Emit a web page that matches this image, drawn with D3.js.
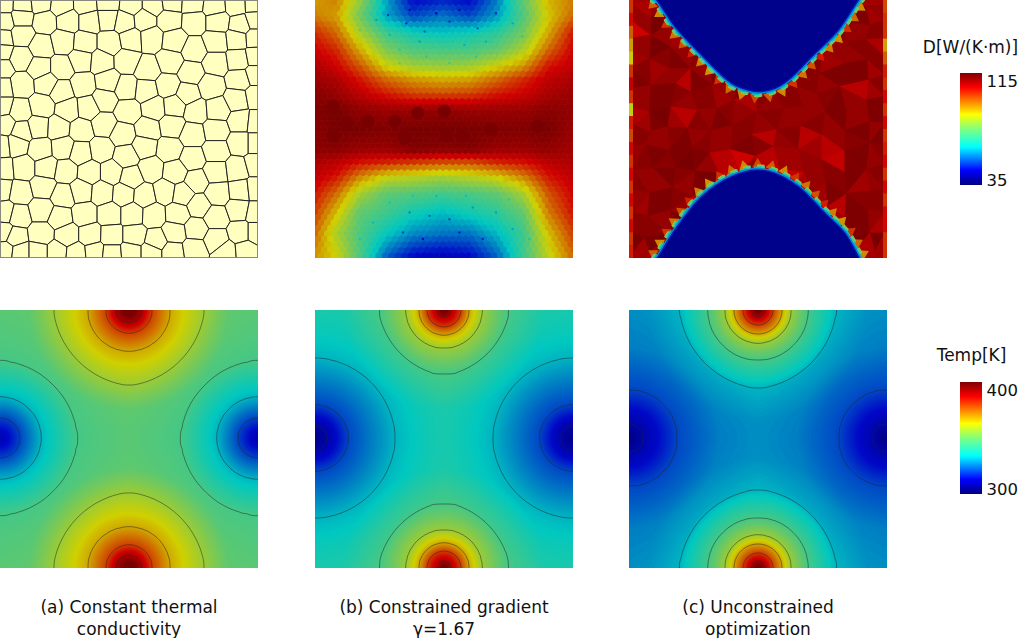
<!DOCTYPE html>
<html><head><meta charset="utf-8">
<script src="https://cdnjs.cloudflare.com/ajax/libs/d3/7.8.5/d3.min.js"></script>
<style>html,body{margin:0;background:#fff}svg{display:block}text{font-family:"DejaVu Sans";fill:#111}</style>
</head><body><svg id="c" width="1024" height="638"></svg>
<script>
// ---------- data ----------
const captions = [["(a) Constant thermal","conductivity"],["(b) Constrained gradient","γ=1.67"],["(c) Unconstrained","optimization"]];
const legendTitles = ["D[W/(K·m)]","Temp[K]"];
const legendTicks = [[115,35],[400,300]];
const colorStops = [0,.13,.34,.5,.63,.87,1];
const brightColors = ["#00007f","#0000ff","#00ffff","#7fff7f","#ffff00","#ff0000","#7f0000"];
const mutedColors  = ["#00007c","#0008c8","#00c8c0","#70c860","#d0d000","#d00000","#780000"];
const contourLevels = [308,320,332,344,356,368,380,392];
// temperature panels: background level and radial profiles around the hot and cold spots
const tempBase = [347,338,328];
const hotRadii  = [[0,6,13,23,41,75,100,110,135],[0,7,17,25,38,64,100,135],[0,7,15,24,33,50,78,110,135]];
const hotRise   = [[60,53,45,33,21,9,1,.5,0],[68,54,42,30,18,6,.3,0],[78,64,52,40,28,16,4,.5,0]];
const coldRadii = [[0,10,20,41,77,100,135],[0,12,33,80,110,135],[0,14,48,90,135]];
const coldDrop  = [[38,33,27,15,3,1.5,0],[36,30,18,6,2,0],[27,20,8,2,0]];
// polycrystal cell centres, panel (a)
const grainSeeds = [[12,12],[68,14],[122,8],[185,16],[258,14],[325,8],[395,14],[462,14],[517,6],[580,10],[645,18],[712,14],[765,12],
[12,65],[65,52],[135,65],[205,62],[270,62],[325,55],[375,65],[435,60],[510,60],[585,65],[655,65],[725,75],[768,60],
[8,115],[65,105],[125,140],[190,125],[255,130],[330,130],[395,118],[455,115],[525,122],[585,150],[650,125],[715,118],[768,115],
[5,155],[62,175],[120,205],[185,205],[245,180],[305,185],[382,183],[445,210],[512,185],[575,220],[650,190],[718,180],[770,170],
[5,205],[65,255],[140,250],[185,275],[250,255],[325,245],[380,265],[440,272],[505,258],[565,282],[635,260],[722,240],[770,225],
[5,265],[60,335],[125,320],[205,330],[265,325],[315,300],[385,335],[465,325],[525,320],[590,335],[655,330],[715,300],[770,290],
[5,320],[15,375],[65,395],[115,382],[175,385],[245,392],[312,375],[370,405],[445,390],[518,378],[580,405],[650,392],[725,365],[770,370],
[5,440],[50,435],[122,450],[190,445],[242,460],[305,450],[380,470],[435,440],[510,450],[580,478],[650,455],[725,430],[770,430],
[10,510],[70,505],[140,505],[197,515],[270,520],[335,520],[395,535],[455,510],[527,518],[592,545],[650,518],[715,510],[770,495],
[5,570],[60,580],[130,563],[190,590],[245,575],[308,580],[372,585],[435,590],[497,577],[550,585],[598,620],[655,582],[725,575],[770,570],
[15,640],[55,650],[125,632],[180,655],[255,645],[330,645],[398,645],[462,648],[535,645],[590,690],[650,655],[720,630],[770,640],
[10,700],[45,715],[125,705],[202,708],[272,708],[335,710],[405,710],[470,725],[525,700],[650,722],[725,700],[770,700],
[15,755],[60,760],[115,760],[170,760],[230,765],[285,760],[335,765],[395,760],[455,760],[520,760],[585,750],[680,760],[740,755]];
// conductivity of panel (b) read on a coarse grid
const gradCols = [0,65,135,215,295,382,465,545,625,700,774];
const gradRows = [0,50,100,150,200,240,280,330,390,450,490,530,580,640,700,770];
const gradD = [
[90,93,79,59,45,47,45,55,73,88,93],
[93,90,75,59,51,55,51,58,71,86,95],
[101,95,81,69,64,62,64,67,75,89,103],
[105,101,89,76,71,70,70,73,81,95,105],
[109,105,97,85,80,79,80,85,91,103,107],
[111,109,103,95,91,89,90,95,101,107,109],
[113,111,107,102,98,97,98,102,105,109,111],
[114,115,112,111,111,112,111,111,111,113,112],
[113,115,115,114,115,115,115,114,114,115,111],
[113,113,111,111,114,113,114,111,111,112,110],
[109,107,103,101,99,97,97,101,103,107,109],
[107,103,93,85,83,81,83,86,93,103,107],
[103,95,81,73,72,70,71,73,81,97,105],
[99,87,73,69,64,61,64,67,73,93,103],
[95,81,71,63,57,55,55,61,69,87,99],
[91,85,71,53,45,43,45,53,69,83,95]];
const darkGrains = [[70,320],[110,370],[70,410],[175,365],[255,365],[285,415],[325,340],[405,335],[460,410],[410,410],[545,390],[685,380]];
const darkGrainD = 115;
const speckles = [[235,45],[290,70],[345,95],[420,65],[505,85],[560,40],[270,150],[330,125],[465,135],[530,125],[240,105],[610,70],[380,40],[450,30],[300,30],[200,60],[150,90],[640,110],[350,170],[500,170],[420,190],[270,190],
[240,610],[300,640],[360,650],[420,660],[490,625],[560,640],[610,690],[190,670],[280,700],[340,720],[450,700],[520,720],[380,590],[470,590],[310,590],[600,600],[150,720],[660,720]];
// conductivity of panel (c): coarse mosaic and the two low-conductivity lobes
const optD = [
[100,106,110,108,108,110,110,110,110,110,110,110,110,110,110,108,108,106,110,98],
[104,110,115,115,104,110,110,110,110,110,110,110,110,110,106,104,112,114,108,100],
[96,100,110,108,104,100,110,110,110,110,110,110,110,110,100,108,112,110,112,100],
[90,110,115,114,110,106,100,110,110,110,110,110,110,100,106,114,110,112,106,90],
[86,108,112,114,110,112,108,104,110,110,110,110,108,100,112,108,114,110,112,96],
[100,112,108,110,112,110,114,110,106,104,100,102,106,112,110,114,112,114,108,102],
[106,114,110,104,104,114,112,110,114,112,108,110,112,114,112,110,114,104,112,100],
[100,110,114,112,110,112,112,108,110,106,112,110,112,110,114,112,114,110,108,104],
[84,106,115,112,104,102,110,112,110,104,112,114,110,112,110,114,112,110,114,100],
[102,108,114,108,110,112,108,114,112,112,110,112,110,114,112,110,114,110,110,104],
[98,112,110,112,114,110,112,110,112,110,104,110,112,104,114,112,110,112,114,100],
[104,110,114,108,104,112,110,112,110,114,112,110,114,112,108,104,110,114,112,102],
[100,112,112,114,115,114,110,104,100,96,104,112,108,110,112,106,102,114,110,104],
[104,110,114,110,112,108,115,100,96,110,110,104,102,108,110,112,110,114,112,100],
[100,112,110,114,110,114,104,100,110,110,110,110,100,106,110,114,112,108,110,104],
[104,110,114,112,114,108,96,110,110,110,110,110,110,100,108,115,104,112,112,100],
[100,108,112,115,110,102,110,110,110,110,110,110,110,110,100,108,112,114,110,104],
[104,112,110,114,104,110,110,110,110,110,110,110,110,110,110,102,110,114,106,104],
[100,115,115,110,100,110,110,110,110,110,110,110,110,110,110,110,104,115,115,100],
[102,108,110,104,100,110,110,110,110,110,110,110,110,110,110,110,102,108,106,100]];
const lobeTop = [[82,-10],[95,0],[150,80],[230,165],[320,250],[370,270],[400,275],[450,265],[490,240],[560,170],[640,90],[700,0],[708,-10]];
const lobeBottom = [[90,785],[100,770],[150,690],[230,590],[320,530],[395,510],[450,520],[520,560],[600,640],[660,700],[700,770],[708,785]];
const spikeD = [96,92,100,94,97,102,93,91,100,95,92,98];

// ---------- layout ----------
const W = 258;
const colX = [0,315,629], rowY = [0,310];
const svg = d3.select("#c");
const defs = svg.append("defs");
const heatMuted  = d3.scaleLinear().domain(colorStops).range(mutedColors).clamp(true);
const dT = d3.scaleLinear().domain([35,115]).range([0,1]);
const tT = d3.scaleLinear().domain([300,400]).range([0,1]);
const zoomX = d3.scaleLinear().domain([0,777]).range([0,W]);
const zoomY = d3.scaleLinear().domain([0,777]).range([0,W]);

function panel(i,r){
  const id = "clip"+i+r;
  defs.append("clipPath").attr("id",id).append("rect").attr("width",W).attr("height",W);
  return svg.append("g").attr("transform",`translate(${colX[i]},${rowY[r]})`).attr("clip-path",`url(#${id})`);
}

// (a) grains
{
  const g = panel(0,0);
  const pts = grainSeeds.map(d=>[zoomX(d[0]),zoomY(d[1])]);
  const vor = d3.Delaunay.from(pts).voronoi([0,0,W,W]);
  g.selectAll("path").data(pts).join("path")
    .attr("d",(d,k)=>vor.renderCell(k)).attr("fill","#ffffc0").attr("stroke","#222").attr("stroke-width",1);
  g.append("rect").attr("width",W).attr("height",W).attr("fill","none").attr("stroke","#888").attr("stroke-width",1.6);
}
// (b) conductivity
{
  const g = panel(1,0);
  const cx = d3.scaleLinear().domain(gradCols).range(d3.range(gradCols.length)).clamp(true);
  const cy = d3.scaleLinear().domain(gradRows).range(d3.range(gradRows.length)).clamp(true);
  const toZoom = d3.scaleLinear().domain([0,W]).range([0,774]);
  const sample = (x,y)=>{
    const fx=cx(toZoom(x)), fy=cy(toZoom(y));
    const i0=Math.min(Math.floor(fx),gradCols.length-2), j0=Math.min(Math.floor(fy),gradRows.length-2);
    const top=d3.interpolateNumber(gradD[j0][i0],gradD[j0][i0+1])(fx-i0);
    const bot=d3.interpolateNumber(gradD[j0+1][i0],gradD[j0+1][i0+1])(fx-i0);
    return d3.interpolateNumber(top,bot)(fy-j0);
  };
  const sx=6.4, sy=5.5, cells=[];
  d3.range(0,W/sy+2).forEach(j=>d3.range(0,W/sx+2).forEach(i=>cells.push([i*sx+(j%2?sx/2:0)-sx/2,j*sy-sy/2])));
  const vor = d3.Delaunay.from(cells).voronoi([0,0,W,W]);
  g.selectAll("path").data(cells).join("path").attr("d",(d,k)=>vor.renderCell(k))
    .attr("fill",d=>heatMuted(dT(sample(d[0],d[1])))).attr("stroke",d=>heatMuted(dT(sample(d[0],d[1])))).attr("stroke-width",.8);
  g.selectAll("circle.d").data(darkGrains).join("circle").attr("class","d")
    .attr("cx",d=>zoomX(d[0]-15)).attr("cy",d=>zoomY(d[1])).attr("r",6.5).attr("fill",heatMuted(dT(darkGrainD)));
  g.selectAll("circle.s").data(speckles).join("circle").attr("class","s")
    .attr("cx",d=>zoomX(d[0]-15)).attr("cy",d=>zoomY(d[1])).attr("r",1.2)
    .attr("fill",d=>heatMuted(dT(sample(zoomX(d[0]-15),zoomY(d[1]))-8)));
}
// (c) conductivity
{
  const g = panel(2,0);
  g.append("rect").attr("width",W).attr("height",W).attr("fill",heatMuted(dT(110)));
  const pts = grainSeeds.map(d=>[zoomX(d[0]),zoomY(d[1])]);
  const del = d3.Delaunay.from(pts);
  const tris = d3.range(del.triangles.length/3);
  const tc = k=>{const a=del.triangles[3*k],b=del.triangles[3*k+1],c=del.triangles[3*k+2];
    return [(pts[a][0]+pts[b][0]+pts[c][0])/3,(pts[a][1]+pts[b][1]+pts[c][1])/3];};
  const cell = d3.scaleQuantize().domain([0,W]).range(d3.range(20));
  const soften = d3.scaleLinear().domain([96,115]).range([102,115]).clamp(true);
  const val = k=>{const c=tc(k);return soften(optD[cell(c[1])][Math.max(1,Math.min(18,cell(c[0])))]);};
  g.selectAll("path.t").data(tris).join("path").attr("class","t")
    .attr("d",k=>del.renderTriangle(k)).attr("fill",k=>heatMuted(dT(val(k)))).attr("stroke",k=>heatMuted(dT(val(k)))).attr("stroke-width",.4);
  // edge cells
  const edge = d3.range(0,20);
  [0,W-4].forEach((x,e)=>g.selectAll("rect.e"+e).data(edge).join("rect").attr("class","e"+e)
    .attr("x",x).attr("y",j=>j*W/20).attr("width",4).attr("height",W/20+.5)
    .attr("fill",j=>heatMuted(dT(optD[j][e?19:0]))));
  const lx = d3.scaleLinear().domain([12,786]).range([0,W]);
  const ly = d3.scaleLinear().domain([0,774]).range([0,W]);
  const line = d3.line().x(d=>lx(d[0])).y(d=>ly(d[1])).curve(d3.curveCatmullRom);
  [lobeTop,lobeBottom].forEach((l,li)=>{
    const path=g.append("path").attr("d",line(l)).attr("fill","none").attr("stroke","none");
    const node=path.node(), len=node.getTotalLength(), sign=li?-1:1;
    d3.range(6,len,12.5).forEach((s,q)=>{
      const a=node.getPointAtLength(s-5.5), b=node.getPointAtLength(s+5.5), m=node.getPointAtLength(s);
      const L=Math.hypot(b.x-a.x,b.y-a.y)||1, nx=-(b.y-a.y)/L*sign, ny=(b.x-a.x)/L*sign;
      const ap=[m.x+nx*12,m.y+ny*12];
      g.append("path").attr("d",d3.line()([[a.x+nx*3,a.y+ny*3],ap,[b.x+nx*3,b.y+ny*3]])+"Z")
        .attr("fill",heatMuted(dT(spikeD[q%spikeD.length])));
    });
    [[11,"#b8c820","6 7"],[10,"#58c888","7 6"],[7,"#10c0b8","7 7"],[4.5,"#0088d8",null]].forEach(b=>
      g.append("path").attr("d",line(l)).attr("fill","none").attr("stroke",b[1]).attr("stroke-width",b[0]).attr("stroke-dasharray",b[2]));
    g.append("path").attr("d",line(l)+"Z").attr("fill",heatMuted(dT(37))).attr("stroke","#0018b0").attr("stroke-width",1.4);
  });
}
// temperature row
[0,1,2].forEach(i=>{
  const g = panel(i,1);
  const n=130, spot=129, coldY=128;
  const hot=d3.scaleLinear().domain(hotRadii[i]).range(hotRise[i]).clamp(true);
  const cold=d3.scaleLinear().domain(coldRadii[i]).range(coldDrop[i]).clamp(true);
  const px=d3.scaleLinear().domain([0,n-1]).range([0,W]);
  const values=new Float64Array(n*n);
  for(let j=0;j<n;j++)for(let k=0;k<n;k++){
    const x=px(k),y=px(j);
    values[j*n+k]=tempBase[i]+hot(Math.hypot(x-spot,y))+hot(Math.hypot(x-spot,y-W))
      -cold(Math.hypot(x,y-coldY))-cold(Math.hypot(x-W,y-coldY));
  }
  const gen=d3.contours().size([n,n]);
  const proj=d3.geoPath(d3.geoTransform({point(x,y){this.stream.point(px(x-.5),px(y-.5));}}));
  g.append("rect").attr("width",W).attr("height",W).attr("fill",heatMuted(tT(d3.min(values))));
  const ths=d3.range(300,408,.5);
  g.selectAll("path.f").data(gen.thresholds(ths)(values)).join("path").attr("class","f")
    .attr("d",proj).attr("fill",d=>heatMuted(tT(d.value)));
  g.selectAll("path.l").data(gen.thresholds(contourLevels)(values)).join("path").attr("class","l")
    .attr("d",proj).attr("fill","none").attr("stroke","#222").attr("stroke-opacity",.7).attr("stroke-width",.7);
});
// legends
const barX=960, barW=22, barTop=[73,382], barH=112, titleY=[53,361], titleX=[970.5,971.5];
const grad=defs.append("linearGradient").attr("id","jet").attr("x1",0).attr("x2",0).attr("y1",1).attr("y2",0);
grad.selectAll("stop").data(colorStops).join("stop").attr("offset",d=>d).attr("stop-color",(d,k)=>brightColors[k]);
[0,1].forEach(k=>{
  svg.append("rect").attr("x",barX).attr("y",barTop[k]).attr("width",barW).attr("height",barH).attr("fill","url(#jet)");
  svg.append("text").attr("x",titleX[k]).attr("y",titleY[k]).attr("text-anchor","middle").attr("font-size",17).text(legendTitles[k]);
  const sc=d3.scaleLinear().domain(d3.extent(legendTicks[k])).range([barTop[k]+barH,barTop[k]]);
  legendTicks[k].forEach((v,m)=>svg.append("text").attr("x",986.5).attr("y",sc(v)+(m?1:14)).attr("font-size",16.5).text(v));
});
// captions
const capX=[129,444,758];
captions.forEach((c,i)=>c.forEach((t,j)=>svg.append("text").attr("x",capX[i]).attr("y",613+j*21.5)
  .attr("text-anchor","middle").attr("font-size",17).text(t)));
</script></body></html>
